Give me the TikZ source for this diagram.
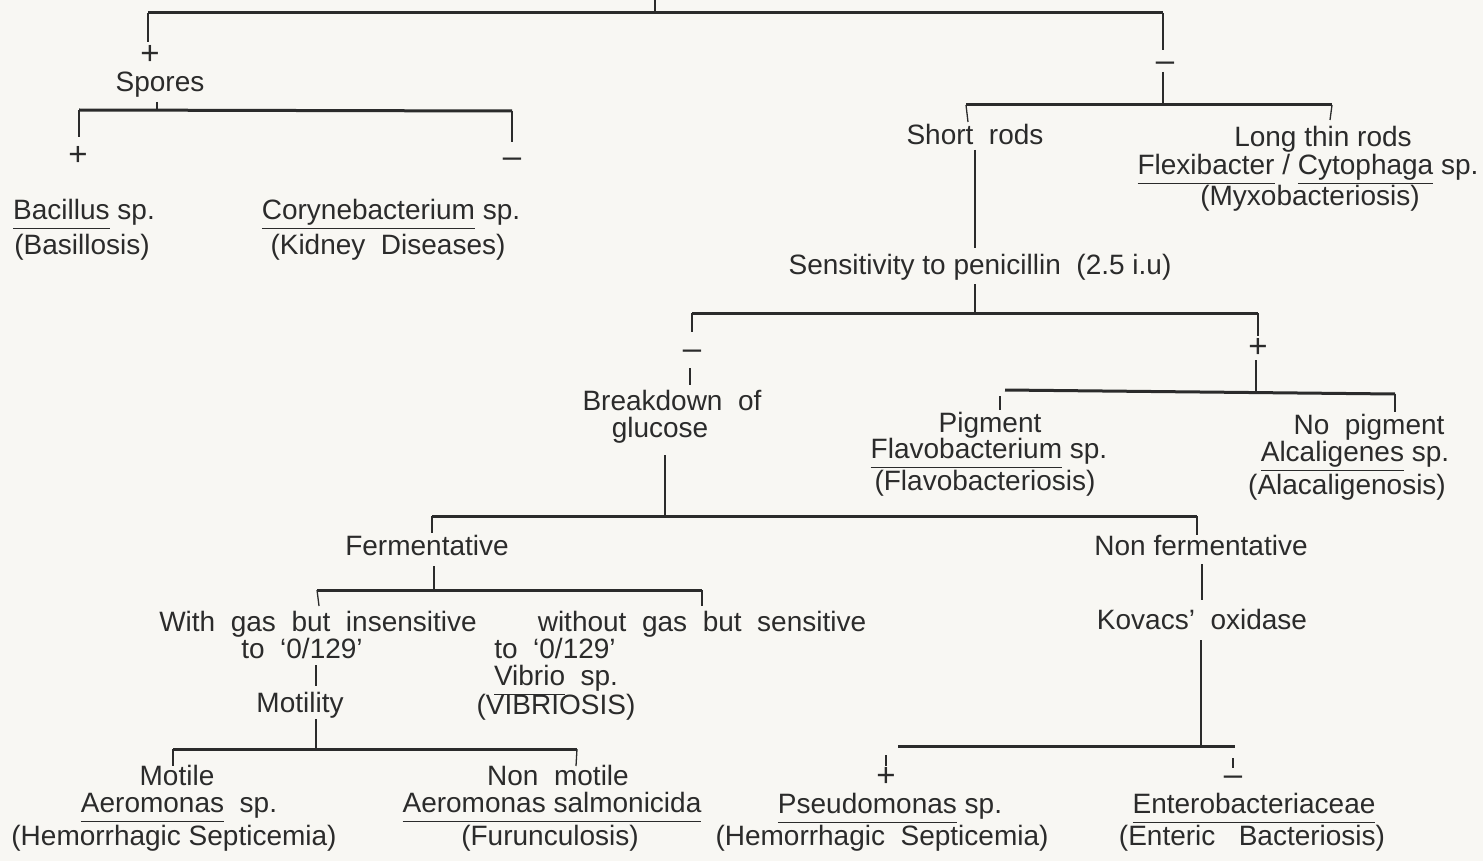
\documentclass[tikz,border=0pt]{standalone}
\usepackage{fontspec}
\setmainfont{Liberation Sans}
\definecolor{ink}{HTML}{2B2B2B}
\definecolor{paper}{HTML}{F8F7F3}
\newsavebox\ulbox
\newcommand\myul[1]{\sbox\ulbox{#1}\rlap{\rule[-9pt]{\wd\ulbox}{1.1pt}}\usebox\ulbox}
\begin{document}
\begin{tikzpicture}[x=1pt,y=-1pt,
  lbl/.style={inner sep=0pt, font=\fontsize{28}{30}\selectfont, text=ink, anchor=mid, yshift=-7pt},
  sign/.style={inner sep=0pt, font=\fontsize{33}{33}\selectfont, text=ink, anchor=center},
  bar/.style={draw=ink, line width=3pt},
  tick/.style={draw=ink, line width=1.3pt},
  stem/.style={draw=ink, line width=2.4pt}]
\fill[paper] (0,0) rectangle (1483,861);
\useasboundingbox (0,0) rectangle (1483,861);

% ---------- texts ----------
\node[sign] (plus1) at (150,55) {+};
\node[lbl] (spores) at (160,82) {Spores};
\node[sign] (plus2) at (78,156) {+};
\node[sign] (minus2) at (512,163) {–};
\node[lbl] (bac) at (84,210) {\myul{Bacillus} sp.};
\node[lbl] (basil) at (82,245) {(Basillosis)};
\node[lbl] (cory) at (391,210) {\myul{Corynebacterium} sp.};
\node[lbl] (kid) at (388,245) {(Kidney\ \ Diseases)};

\node[sign] (minus1) at (1165,67) {–};
\node[lbl] (short) at (975,135) {Short\ \ rods};
\node[lbl] (long) at (1323,137) {Long thin rods};
\node[lbl] (flex) at (1308,165) {\myul{Flexibacter} / \myul{Cytophaga} sp.};
\node[lbl] (myxo) at (1310,196) {(Myxobacteriosis)};

\node[lbl] (sens) at (980,265) {Sensitivity to penicillin\ \ (2.5 i.u)};
\node[sign] (minus3) at (692,355) {–};
\node[sign] (plus3) at (1258,348) {+};
\node[lbl] (brk) at (672,401) {Breakdown\ \ of};
\node[lbl] (gluc) at (660,428) {glucose};
\node[lbl] (pig) at (990,423) {Pigment};
\node[lbl] (flavo) at (989,449) {\myul{Flavobacterium} sp.};
\node[lbl] (flavosis) at (985,481) {(Flavobacteriosis)};
\node[lbl] (nopig) at (1369,425) {No\ \ pigment};
\node[lbl] (alca) at (1355,452) {\myul{Alcaligenes} sp.};
\node[lbl] (alcasis) at (1347,485) {(Alacaligenosis)};

\node[lbl] (ferm) at (427,546) {Fermentative};
\node[lbl] (nonferm) at (1201,546) {Non fermentative};
\node[lbl] (withgas) at (318,622) {With\ \ gas\ \ but\ \ insensitive};
\node[lbl] (to1) at (302,649) {to\ \ ‘0/129’};
\node[lbl] (without) at (702,622) {without\ \ gas\ \ but\ \ sensitive};
\node[lbl] (to2) at (555,649) {to\ \ ‘0/129’};
\node[lbl] (vib) at (556,676) {\myul{Vibrio}\ \ sp.};
\node[lbl] (vibsis) at (556,705) {(VIBRIOSIS)};
\node[lbl] (motility) at (300,703) {Motility};
\node[lbl] (motile) at (177,776) {Motile};
\node[lbl] (aero) at (179,803) {\myul{Aeromonas}\ \ sp.};
\node[lbl] (hemo1) at (174,836) {(Hemorrhagic Septicemia)};
\node[lbl] (nonmot) at (558,776) {Non\ \ motile};
\node[lbl] (aerosal) at (552,803) {\myul{Aeromonas salmonicida}};
\node[lbl] (furu) at (550,836) {(Furunculosis)};

\node[lbl] (kovacs) at (1202,620) {Kovacs’\ \ oxidase};
\node[sign] (plus4) at (886,777) {+};
\node[sign] (minus4) at (1233,781) {–};
\node[lbl] (pseudo) at (890,804) {\myul{Pseudomonas} sp.};
\node[lbl] (hemo2) at (882,836) {(Hemorrhagic\ \ Septicemia)};
\node[lbl] (entero) at (1254,804) {\myul{Enterobacteriaceae}};
\node[lbl] (enteric) at (1252,836) {(Enteric\ \ \ Bacteriosis)};

% ---------- junction points ----------
\coordinate (root) at (655,0);
\coordinate (b0l) at (148,13); \coordinate (b0m) at (655,13); \coordinate (b0r) at (1163,13);
\coordinate (p1t) at (148,42);
\coordinate (spb) at (157,102); \coordinate (b1m) at (157,110);
\coordinate (b1l) at (79,110); \coordinate (b1r) at (512,111);
\coordinate (p2t) at (79,137); \coordinate (m2t) at (512,142);
\coordinate (m1t) at (1163,50); \coordinate (m1b) at (1163,72); \coordinate (b2m) at (1163,105);
\coordinate (b2l) at (966,105); \coordinate (b2r) at (1332,105);
\coordinate (srt) at (968,122); \coordinate (ltr) at (1330,120);
\coordinate (srb) at (975,150); \coordinate (sent) at (975,248);
\coordinate (senb) at (975,284); \coordinate (b3m) at (975,313);
\coordinate (b3l) at (692,313); \coordinate (b3r) at (1258,313);
\coordinate (m3t) at (692,332); \coordinate (m3b) at (690,368); \coordinate (brt) at (690,385);
\coordinate (p3t) at (1258,336); \coordinate (p3b) at (1256,360); \coordinate (b4m) at (1256,391);
\coordinate (b4l) at (1005,390); \coordinate (b4r) at (1395,394);
\coordinate (pigt) at (1000,410); \coordinate (b4lt) at (1000,396);
\coordinate (npt) at (1395,412);
\coordinate (glb) at (665,455); \coordinate (b5m) at (665,516);
\coordinate (b5l) at (432,516); \coordinate (b5r) at (1197,516);
\coordinate (fet) at (432,533); \coordinate (nft) at (1197,535);
\coordinate (feb) at (434,566); \coordinate (b6m) at (434,590);
\coordinate (b6l) at (317,590); \coordinate (b6r) at (702,590);
\coordinate (wgt) at (319,606); \coordinate (wot) at (702,606);
\coordinate (to1b) at (316,665); \coordinate (mot) at (316,686);
\coordinate (mob) at (316,719); \coordinate (b7m) at (316,749);
\coordinate (b7l) at (173,749); \coordinate (b7r) at (577,749);
\coordinate (mlt) at (173,766); \coordinate (nmt) at (576,766);
\coordinate (nfb) at (1202,564); \coordinate (kvt) at (1202,600);
\coordinate (kvb) at (1201,640); \coordinate (b8m) at (1201,746);
\coordinate (b8l) at (898,746); \coordinate (b8r) at (1235,746);
\coordinate (b8lt) at (886,755); \coordinate (p4t) at (886,766);
\coordinate (b8rt) at (1233,758); \coordinate (m4t) at (1233,768);

% ---------- connectors ----------
\draw[tick] (root) -- (b0m);
\draw[bar] (b0l) -- (b0r);
\draw[tick] (b0l) -- (p1t);
\draw[tick] (spb) -- (b1m);
\draw[bar] (b1l) -- (b1r);
\draw[tick] (b1l) -- (p2t);
\draw[tick] (b1r) -- (m2t);
\draw[tick] (b0r) -- (m1t);
\draw[tick] (m1b) -- (b2m);
\draw[bar] (b2l) -- (b2r);
\draw[tick] (b2l) -- (srt);
\draw[tick] (b2r) -- (ltr);
\draw[tick] (srb) -- (sent);
\draw[tick] (senb) -- (b3m);
\draw[bar] (b3l) -- (b3r);
\draw[tick] (b3l) -- (m3t);
\draw[tick] (m3b) -- (brt);
\draw[tick] (b3r) -- (p3t);
\draw[tick] (p3b) -- (b4m);
\draw[bar] (b4l) -- (b4r);
\draw[tick] (b4lt) -- (pigt);
\draw[tick] (b4r) -- (npt);
\draw[stem] (glb) -- (b5m);
\draw[bar] (b5l) -- (b5r);
\draw[tick] (b5l) -- (fet);
\draw[tick] (b5r) -- (nft);
\draw[stem] (feb) -- (b6m);
\draw[bar] (b6l) -- (b6r);
\draw[tick] (b6l) -- (wgt);
\draw[tick] (b6r) -- (wot);
\draw[tick] (to1b) -- (mot);
\draw[tick] (mob) -- (b7m);
\draw[bar] (b7l) -- (b7r);
\draw[tick] (b7l) -- (mlt);
\draw[tick] (b7r) -- (nmt);
\draw[tick] (nfb) -- (kvt);
\draw[stem] (kvb) -- (b8m);
\draw[bar] (b8l) -- (b8r);
\draw[tick] (b8lt) -- (p4t);
\draw[tick] (b8rt) -- (m4t);
\end{tikzpicture}
\end{document}
